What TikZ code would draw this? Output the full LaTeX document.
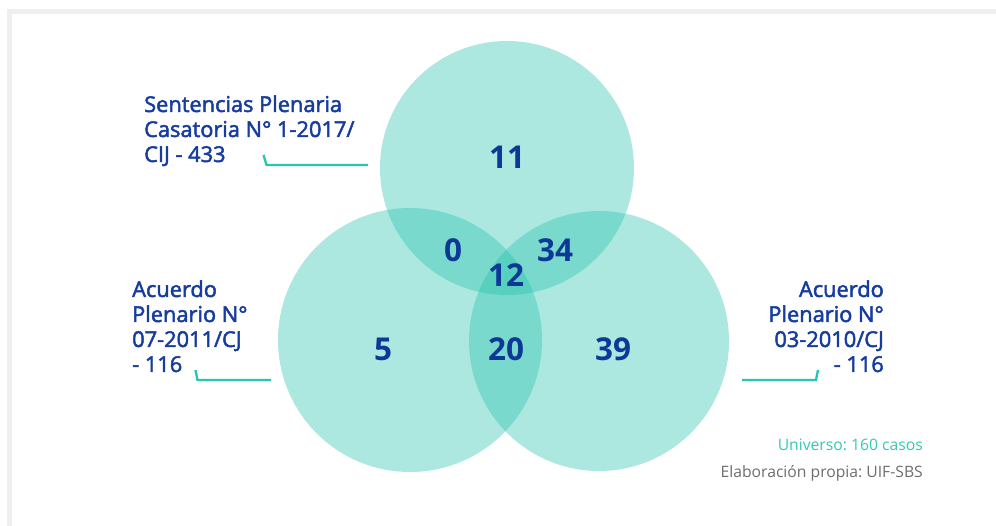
\documentclass[tikz,border=0pt]{standalone}
\usepackage{fontspec}
\setmainfont{Open Sans}
\newfontfamily\semib{Open Sans}[FakeBold=2.2]
\frenchspacing
\definecolor{vennc}{RGB}{32,193,172}
\definecolor{framec}{RGB}{239,239,239}
\definecolor{labc}{RGB}{22,60,158}
\definecolor{numc}{RGB}{14,56,150}
\definecolor{connc}{RGB}{40,197,180}
\definecolor{univc}{RGB}{52,200,184}
\definecolor{graytx}{RGB}{110,110,110}
\begin{document}
\begin{tikzpicture}[x=1pt,y=-1pt,
  venn/.style={circle,fill=vennc,fill opacity=0.37,draw=none,inner sep=0pt},
  num/.style={font=\bfseries\fontsize{31.5}{31.5}\selectfont,text=numc,inner sep=0pt,anchor=center},
  lab/.style={font=\semib\fontsize{21.8}{25}\selectfont,text=labc,inner sep=0pt},
  conn/.style={draw=connc,line width=2.3pt,line join=miter},
  note/.style={font=\fontsize{15.7}{18}\selectfont,inner sep=0pt,anchor=base east}]
\useasboundingbox (0,0) rectangle (996,526);
\fill[white] (0,0) rectangle (996,526);
% frame
\fill[framec] (7,9) rectangle (996,14);
\fill[framec] (7,9) rectangle (12,526);
% circles
\node[venn,minimum size=254pt] (top) at (507,168) {};
\node[venn,minimum size=264pt] (left) at (410,340) {};
\node[venn,minimum size=260pt] (right) at (599,341) {};
% numbers
\node[num] (n11) at (507,157) {11};
\node[num] (n0) at (453,250) {0};
\node[num] (n34) at (555,250) {34};
\node[num] (n12) at (506,275) {12};
\node[num] (n5) at (383,349) {5};
\node[num] (n20) at (506,349) {20};
\node[num] (n39) at (613,349) {39};
% labels
\node[lab,anchor=base west] (labtop) at (144,112) {\fontsize{21.8}{25}\selectfont\begin{tabular}[t]{@{}l@{}}Sentencias Plenaria\\Casatoria N° 1-2017/\\CIJ - 433\end{tabular}};
\node[lab,anchor=base west] (lableft) at (132,297) {\fontsize{21.8}{25}\selectfont\begin{tabular}[t]{@{}l@{}}Acuerdo\\Plenario N°\\07-2011/CJ\\- 116\end{tabular}};
\node[lab,anchor=base east] (labright) at (884,297) {\fontsize{21.8}{25}\selectfont\begin{tabular}[t]{@{}r@{}}Acuerdo\\Plenario N°\\03-2010/CJ\\- 116\end{tabular}};
% connectors
\coordinate (t1) at (263.5,155);
\coordinate (t2) at (266.5,165);
\coordinate (t3) at (368,165);
\draw[conn] (t1) -- (t2) -- (t3);
\coordinate (l1) at (195.5,370);
\coordinate (l2) at (197.5,380);
\coordinate (l3) at (271,380);
\draw[conn] (l1) -- (l2) -- (l3);
\coordinate (r1) at (742,380);
\coordinate (r2) at (816,380);
\coordinate (r3) at (818,370);
\draw[conn] (r1) -- (r2) -- (r3);
% notes
\node[note,text=univc] (univ) at (923,450) {Universo: 160 casos};
\node[note,text=graytx] (elab) at (923,477) {Elaboración propia: UIF-SBS};
\end{tikzpicture}
\end{document}
